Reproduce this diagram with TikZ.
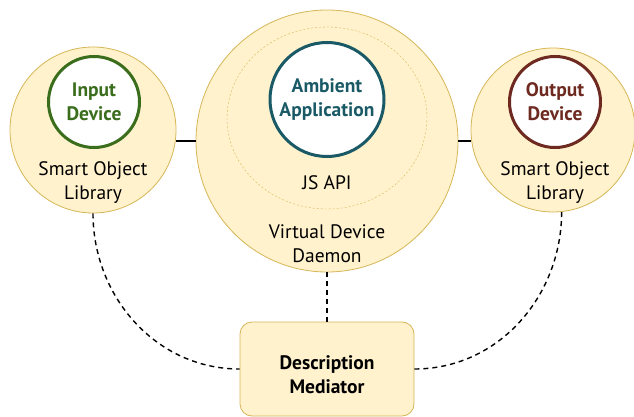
\documentclass[tikz,border=0pt]{standalone}
\usepackage{fontspec}
\setmainfont{PT Sans}
\usepackage{tikz}
\usetikzlibrary{shapes.geometric}
\definecolor{padfill}{HTML}{FFF2CC}
\definecolor{padline}{HTML}{D6B656}
\definecolor{ingreen}{HTML}{3A6D1C}
\definecolor{appteal}{HTML}{1A5A66}
\definecolor{outred}{HTML}{6E2A20}

\begin{document}
\begin{tikzpicture}[x=1pt,y=-1pt,
    pad/.style={circle,draw=padline,fill=padfill,line width=0.8pt,inner sep=0pt},
    core/.style={circle,draw=#1,text=#1,fill=white,line width=3pt,inner sep=0pt,align=center,font=\fontsize{19.5}{24}\selectfont\bfseries},
    caption/.style={align=center,font=\fontsize{19.5}{24}\selectfont},
    link/.style={line width=1.4pt},
    loose/.style={line width=1.4pt,dash pattern=on 5pt off 4pt}]
    \useasboundingbox (0,0) rectangle (634,417);
    \node[pad,minimum size=166] (inlib) at (93,130) {};
    \node[pad,minimum size=262] (vdd) at (327,141) {};
    \node[pad,minimum size=164] (outlib) at (553,130) {};
    \node[ellipse,draw=padline,dash pattern=on 2pt off 2pt,minimum width=200,minimum height=182,inner sep=0pt] (jsapi) at (327,118) {};
    \node[core=ingreen,minimum size=91] (indev) at (94,102) {Input\\Device};
    \node[core=appteal,minimum size=114] (app) at (327,99.5) {Ambient\\Application};
    \node[core=outred,minimum size=91] (outdev) at (555,102) {Output\\Device};
    \node[caption] (inlibtxt) at (93,183) {Smart Object\\Library};
    \node[caption] (apitxt) at (327,183) {JS API};
    \node[caption] (vddtxt) at (327,244) {Virtual Device\\Daemon};
    \node[caption] (outlibtxt) at (555,183) {Smart Object\\Library};
    \node[draw=padline,fill=padfill,line width=0.8pt,rounded corners=12pt,minimum width=174,minimum height=94,text height=50pt,align=center,font=\fontsize{19.5}{24}\selectfont\bfseries] (mediator) at (327,369) {Description\\Mediator};
    \draw[link] (inlib.east |- vdd.west) -- (vdd.west);
    \draw[link] (vdd.east) -- (vdd.east -| outlib.west);
    \draw[loose] (vdd.south) -- (mediator.north);
    \draw[loose] (inlib.south) to[out=-90,in=180] (mediator.west);
    \draw[loose] (mediator.east) to[out=0,in=-90] (outlib.-84);
\end{tikzpicture}
\end{document}
